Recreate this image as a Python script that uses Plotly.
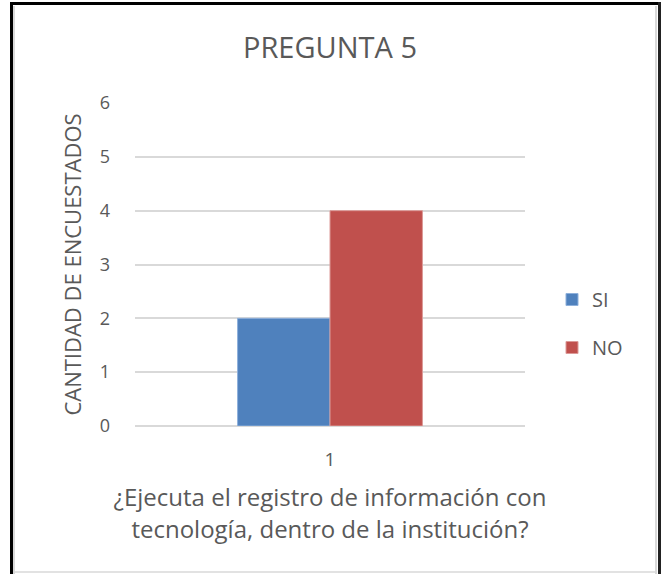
import plotly.graph_objects as go

categories = ["1"]
series_names = ["SI", "NO"]
si_values = [2]
no_values = [4]
colors = ["#4F81BD", "#C0504D"]
edge_colors = ["#8EB0DB", "#DC9A98"]
y_ticks = [0, 1, 2, 3, 4, 5, 6]

title_text = "PREGUNTA 5"
y_title = "CANTIDAD DE ENCUESTADOS"
x_title = "¿Ejecuta el registro de información con<br>tecnología, dentro de la institución?"

FONT = "Open Sans"
GRAY = "#595959"

fig = go.Figure()
for name, vals, c, ec in zip(series_names, [si_values, no_values], colors, edge_colors):
    fig.add_trace(go.Bar(x=categories, y=vals, name=name, legendgroup=name,
                         marker=dict(color=c, line=dict(color=ec, width=1))))

# plot area in pixels: x 135..525, y 103..426
L, R, T, B = 135, 136, 103, 148
W, H = 661, 574
pw, ph = W - L - R, H - T - B

def px_x(p):
    return (p - L) / pw

def px_y(p):
    return (H - B - p) / ph

shapes = [
    dict(type="line", xref="paper", yref="paper", x0=px_x(11.5), x1=px_x(11.5), y0=px_y(2), y1=px_y(580),
         line=dict(color="#000000", width=3)),
    dict(type="line", xref="paper", yref="paper", x0=px_x(10), x1=px_x(661), y0=px_y(3.5), y1=px_y(3.5),
         line=dict(color="#000000", width=3)),
    dict(type="line", xref="paper", yref="paper", x0=px_x(659.5), x1=px_x(659.5), y0=px_y(2), y1=px_y(580),
         line=dict(color="#222222", width=3)),
    dict(type="line", xref="paper", yref="paper", x0=px_x(14), x1=px_x(14), y0=px_y(6), y1=px_y(574),
         line=dict(color="#D9D9D9", width=2)),
    dict(type="line", xref="paper", yref="paper", x0=px_x(656), x1=px_x(656), y0=px_y(6), y1=px_y(574),
         line=dict(color="#D9D9D9", width=2)),
    dict(type="line", xref="paper", yref="paper", x0=px_x(14), x1=px_x(656), y0=px_y(572), y1=px_y(572),
         line=dict(color="#D9D9D9", width=1.5)),
]

fig.update_layout(
    width=W, height=H,
    margin=dict(l=L, r=R, t=T, b=B),
    paper_bgcolor="white", plot_bgcolor="white",
    barmode="group", bargap=0.526, bargroupgap=0,
    font=dict(family=FONT, color=GRAY),
    title=dict(text=title_text, x=0.5, xref="paper", xanchor="center", y=1 - 48 / H, yanchor="middle",
               font=dict(family=FONT, size=29, color=GRAY)),
    showlegend=True,
    legend=dict(x=px_x(552), y=px_y(280), xanchor="left", yanchor="top",
                font=dict(family=FONT, size=20, color=GRAY),
                traceorder="grouped", tracegroupgap=19,
                itemwidth=30, bgcolor="rgba(0,0,0,0)"),
    shapes=shapes,
)

fig.update_xaxes(
    showgrid=False, showline=False, zeroline=False,
    ticks="", ticklabelstandoff=20,
    tickfont=dict(family=FONT, size=19, color=GRAY),
    title=dict(text=x_title, font=dict(family=FONT, size=24, color=GRAY), standoff=18),
)
fig.update_yaxes(
    range=[0, 6], tickvals=y_ticks, showgrid=True, gridcolor="#D9D9D9", gridwidth=1.5,
    zeroline=True, zerolinecolor="#D9D9D9", zerolinewidth=1.5, showline=False,
    ticks="", ticklabelstandoff=24,
    tickfont=dict(family=FONT, size=18, color=GRAY),
    title=dict(text=y_title, font=dict(family=FONT, size=22, color=GRAY), standoff=12),
)

fig.write_html("out.html", config={"displayModeBar": False},
               post_script="document.body.style.margin='0';document.body.style.overflow='hidden';")
